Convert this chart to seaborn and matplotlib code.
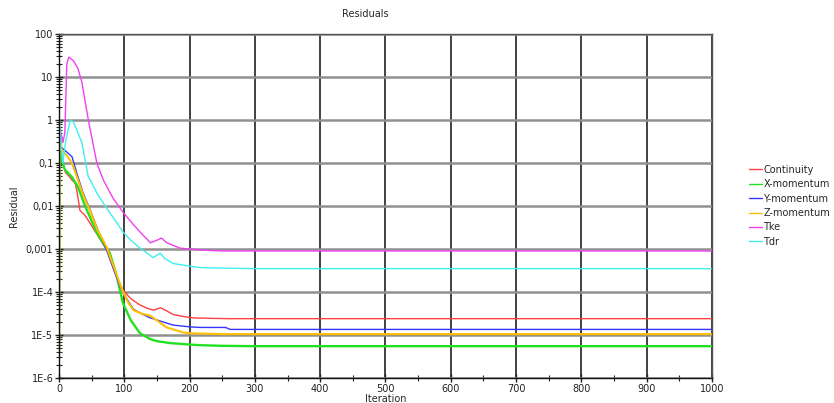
import numpy as np
import pandas as pd
import matplotlib
matplotlib.use("Agg")
import matplotlib.pyplot as plt
import seaborn as sns
from matplotlib.ticker import FixedLocator, FixedFormatter, LogLocator, NullFormatter, MultipleLocator

# ---- data ----
series_names = ["Continuity", "X-momentum", "Y-momentum", "Z-momentum", "Tke", "Tdr"]

cont_it = [0, 1, 3, 6, 10, 15, 20, 25, 28, 32, 40, 48, 60, 73, 85, 98, 110, 124, 135, 144, 150, 155, 160, 175, 190, 206, 230, 260, 300, 400, 500, 600, 700, 800, 900, 1000]
cont_val = [0.5, 0.45, 0.15, 0.1, 0.06, 0.05, 0.04, 0.034, 0.02, 0.008, 0.006, 0.0039, 0.002, 0.00095, 0.0003, 1.1e-4, 7e-5, 5e-5, 4.2e-5, 3.8e-5, 4.0e-5, 4.3e-5, 4.0e-5, 3.0e-5, 2.7e-5, 2.5e-5, 2.45e-5, 2.4e-5, 2.4e-5, 2.4e-5, 2.4e-5, 2.4e-5, 2.4e-5, 2.4e-5, 2.4e-5, 2.4e-5]

xmom_it = [0, 1, 4, 9, 20, 29, 40, 58, 70, 78, 88, 98, 110, 124, 140, 150, 170, 200, 216, 250, 300, 400, 500, 600, 700, 800, 900, 1000]
xmom_val = [3e-6, 0.4, 0.12, 0.07, 0.047, 0.028, 0.01, 0.0024, 0.0012, 8e-4, 2.5e-4, 5.5e-5, 2.2e-5, 1.1e-5, 8e-6, 7.2e-6, 6.5e-6, 6e-6, 5.8e-6, 5.6e-6, 5.5e-6, 5.5e-6, 5.5e-6, 5.5e-6, 5.5e-6, 5.5e-6, 5.5e-6, 5.5e-6]

ymom_it = [0, 1, 4, 12, 20, 27, 37, 48, 58, 73, 85, 94, 105, 114, 125, 140, 160, 175, 200, 216, 255, 262, 300, 400, 500, 600, 700, 800, 900, 1000]
ymom_val = [6e-6, 0.5, 0.23, 0.18, 0.14, 0.06, 0.02, 0.008, 0.0032, 0.00095, 3e-4, 1.3e-4, 6.5e-5, 4e-5, 3.2e-5, 2.5e-5, 2.0e-5, 1.7e-5, 1.55e-5, 1.5e-5, 1.5e-5, 1.35e-5, 1.35e-5, 1.35e-5, 1.35e-5, 1.35e-5, 1.35e-5, 1.35e-5, 1.35e-5, 1.35e-5]

zmom_it = [0, 1, 4, 12, 20, 27, 37, 48, 58, 73, 85, 96, 105, 114, 125, 140, 165, 190, 200, 250, 300, 400, 500, 600, 700, 800, 900, 1000]
zmom_val = [1.05e-6, 0.6, 0.2, 0.15, 0.1, 0.05, 0.018, 0.0075, 0.003, 0.0011, 3.5e-4, 1.2e-4, 6e-5, 3.8e-5, 3.2e-5, 2.8e-5, 1.5e-5, 1.15e-5, 1.1e-5, 1.05e-5, 1.05e-5, 1.05e-5, 1.05e-5, 1.05e-5, 1.05e-5, 1.05e-5, 1.05e-5, 1.05e-5]

tke_it = [3, 6, 9, 12, 15, 22, 29, 35, 45, 58, 68, 83, 98, 112, 124, 140, 150, 157, 165, 185, 216, 250, 300, 400, 500, 600, 700, 800, 900, 1000]
tke_val = [0.5, 0.3, 0.5, 20, 29, 24, 16, 7.6, 1.0, 0.1, 0.04, 0.015, 0.0072, 0.004, 0.0025, 0.0014, 0.0016, 0.0018, 0.0014, 0.00105, 0.00095, 0.0009, 0.0009, 0.0009, 0.0009, 0.0009, 0.0009, 0.0009, 0.0009, 0.0009]

tdr_it = [1, 3, 6, 10, 17, 22, 27, 35, 45, 48, 58, 75, 89, 98, 110, 124, 135, 144, 155, 162, 175, 200, 216, 250, 300, 400, 500, 600, 700, 800, 900, 1000]
tdr_val = [1.0, 0.3, 0.1, 0.3, 1.0, 0.9, 0.6, 0.3, 0.047, 0.04, 0.02, 0.008, 0.004, 0.0025, 0.0016, 0.00105, 0.0008, 0.00063, 0.0008, 0.0006, 0.00046, 0.0004, 0.00037, 0.00036, 0.00035, 0.00035, 0.00035, 0.00035, 0.00035, 0.00035, 0.00035, 0.00035]

y_tick_values = [100, 10, 1, 0.1, 0.01, 0.001, 1e-4, 1e-5, 1e-6]
y_tick_labels = ["100", "10", "1", "0,1", "0,01", "0,001", "1E-4", "1E-5", "1E-6"]
x_tick_values = [0, 100, 200, 300, 400, 500, 600, 700, 800, 900, 1000]

colors = ["#ff4040", "#22e022", "#3535ff", "#ffbf00", "#f040f0", "#40eeee"]
line_widths = [1.0, 1.7, 1.0, 1.5, 1.0, 1.0]

frames = []
for name, it, val in zip(series_names,
                         [cont_it, xmom_it, ymom_it, zmom_it, tke_it, tdr_it],
                         [cont_val, xmom_val, ymom_val, zmom_val, tke_val, tdr_val]):
    frames.append(pd.DataFrame({"Iteration": it, "Residual": val, "series": name}))
df = pd.concat(frames, ignore_index=True)

# ---- figure ----
sns.set_style("white")
plt.rcParams['font.family'] = ['DejaVu Sans']

fig = plt.figure(figsize=(8.34, 4.03), dpi=100)
ax = fig.add_axes([0.0707, 0.062, 0.783, 0.8536])

sns.lineplot(data=df, x="Iteration", y="Residual", hue="series", hue_order=series_names,
             palette=colors, ax=ax, linewidth=1.0, estimator=None, sort=False, legend=True)

for ln, lw in zip(ax.lines[:len(series_names)], line_widths):
    ln.set_linewidth(lw)

ax.set_yscale("log")
ax.set_ylim(1e-6, 100)
ax.set_xlim(0, 1000)

ax.yaxis.set_major_locator(FixedLocator(y_tick_values))
ax.yaxis.set_major_formatter(FixedFormatter(y_tick_labels))
ax.yaxis.set_minor_locator(LogLocator(base=10, subs=np.arange(2, 10)))
ax.yaxis.set_minor_formatter(NullFormatter())
ax.xaxis.set_major_locator(FixedLocator(x_tick_values))
ax.xaxis.set_minor_locator(MultipleLocator(50))

ax.tick_params(axis="both", which="major", direction="inout", length=6, width=1,
               labelsize=7, colors="#222222", pad=1, left=True, bottom=True)
ax.tick_params(axis="both", which="minor", direction="inout", length=4, width=0.8,
               color="#222222", left=True, bottom=True)

ax.grid(True, axis="x", which="major", color="#333333", linewidth=1.3)
ax.grid(True, axis="y", which="major", color="#909090", linewidth=1.8)
ax.set_axisbelow(True)

for s in ax.spines.values():
    s.set_color("#555555")
    s.set_linewidth(1.0)
ax.spines["left"].set_color("#111111")
ax.spines["bottom"].set_color("#111111")

ax.set_xlabel("Iteration", fontsize=7, labelpad=0)
ax.set_ylabel("Residual", fontsize=7, labelpad=5)
fig.text(365 / 834, 1 - 14 / 403, "Residuals", ha="center", va="center", fontsize=7)

handles, labels = ax.get_legend_handles_labels()
for h in handles:
    h.set_linewidth(1.0)
ax.legend(handles, labels, loc="upper left", bbox_to_anchor=(745 / 834, 1 - 161 / 403),
          bbox_transform=fig.transFigure, frameon=False, fontsize=7,
          handlelength=1.3, handletextpad=0.2, labelspacing=0.45, borderaxespad=0)

fig.savefig("out.png", dpi=100)
